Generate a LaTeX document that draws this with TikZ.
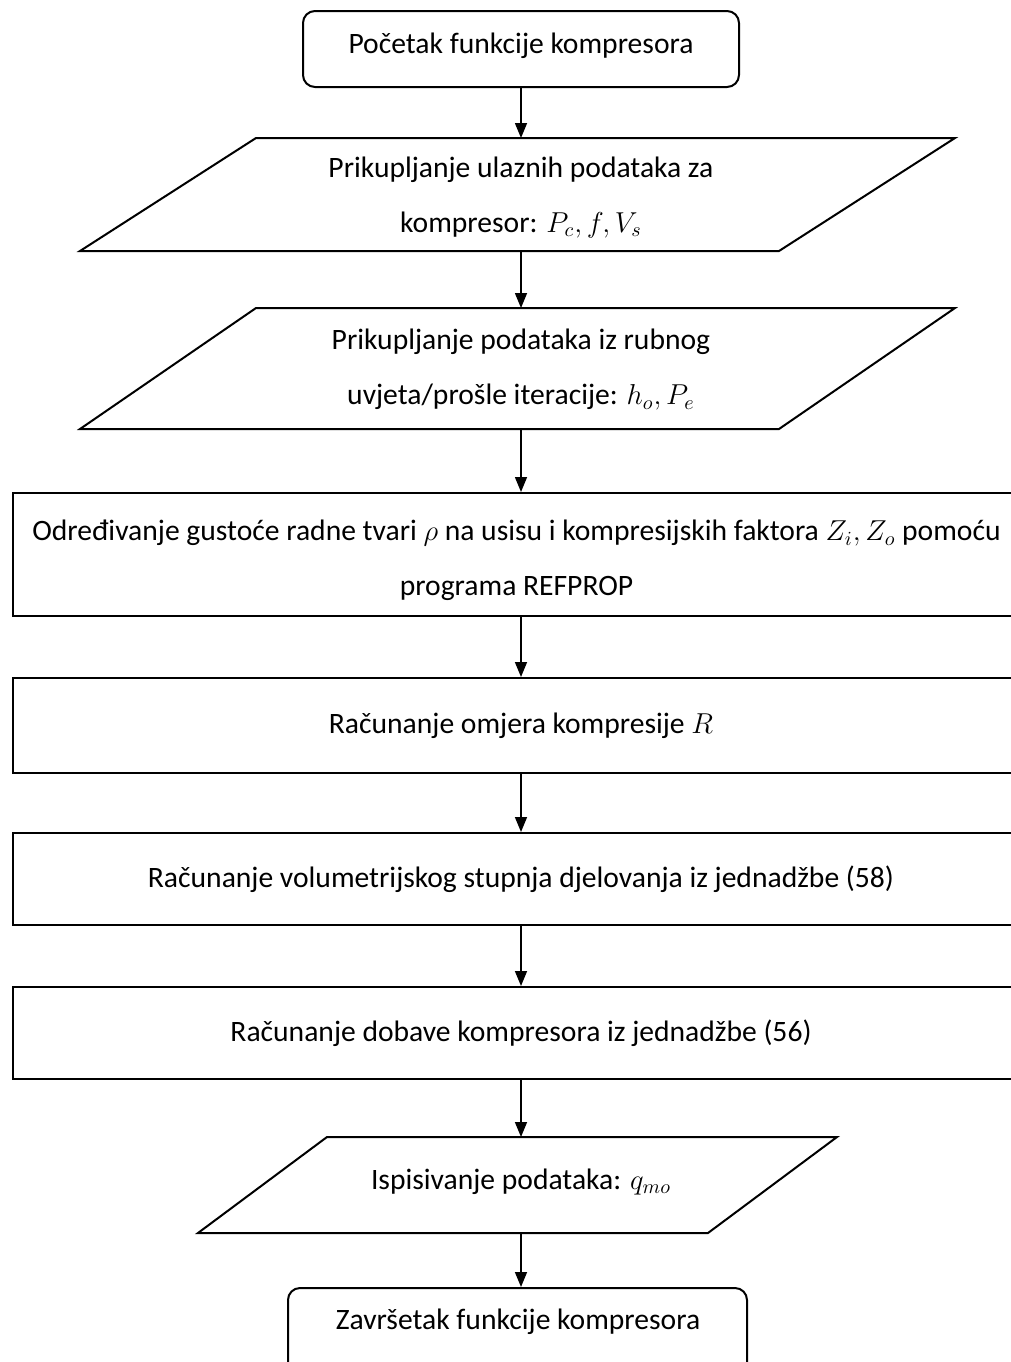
\documentclass[tikz,border=0pt]{standalone}
\usepackage{fontspec}
\setmainfont{Carlito}
\usetikzlibrary{arrows.meta}
\newcommand{\fs}{\fontsize{14.8}{27.5}\selectfont}
\begin{document}
\begin{tikzpicture}[x=0.5pt,y=-0.5pt,
  box/.style={draw, line width=1pt, inner sep=0pt, font=\fs, align=center},
  rbox/.style={box, rounded corners=6pt},
  para/.style={draw, line width=1pt, line join=miter},
  lbl/.style={font=\fs, align=center, inner sep=0pt},
  arr/.style={-{Triangle[length=7.5pt,width=6pt]}, line width=0.75pt}]
\useasboundingbox (0,0) rectangle (1011,1362);
\clip (0,0) rectangle (1011,1362);

% start
\node[rbox, minimum width=218pt, minimum height=38pt] (start) at (521,49) {};
\node[lbl] (startt) at (521,46) {Početak funkcije kompresora};

% input parallelogram 1
\draw[para] (256,138) -- (955,138) -- (779,251) -- (80,251) -- cycle;
\coordinate (p1top) at (521,138);
\coordinate (p1bot) at (521,251);
\node[lbl] (p1t) at (521,197.5) {Prikupljanje ulaznih podataka za\\kompresor: $P_c, f, V_s$};

% input parallelogram 2
\draw[para] (256,308) -- (955,308) -- (779,429) -- (80,429) -- cycle;
\coordinate (p2top) at (521,308);
\coordinate (p2bot) at (521,429);
\node[lbl] (p2t) at (521,370) {Prikupljanje podataka iz rubnog\\uvjeta/prošle iteracije: $h_o, P_e$};

% process rectangles
\node[box, minimum width=508.5pt, minimum height=61.5pt] (r1) at (521,554.5) {};
\node[lbl] (r1t) at (516.5,560.5) {Određivanje gustoće radne tvari $\rho$ na usisu i kompresijskih faktora $Z_i, Z_o$ pomoću\\programa REFPROP};

\node[box, minimum width=508.5pt, minimum height=47.5pt] (r2) at (521,725.5) {Računanje omjera kompresije $R$};
\node[box, minimum width=508.5pt, minimum height=46pt] (r3) at (521,879) {Računanje volumetrijskog stupnja djelovanja iz jednadžbe (58)};
\node[box, minimum width=508.5pt, minimum height=46pt] (r4) at (521,1033) {Računanje dobave kompresora iz jednadžbe (56)};

% output parallelogram
\draw[para] (327,1137) -- (837,1137) -- (708,1233) -- (198,1233) -- cycle;
\coordinate (p3top) at (521,1137);
\coordinate (p3bot) at (521,1233);
\node[lbl] (p3t) at (521,1182) {Ispisivanje podataka: $q_{mo}$};

% end (bottom edge lies below the picture's edge)
\node[rbox, minimum width=229.5pt, minimum height=46pt] (end) at (517.5,1334) {};
\node[lbl] (endt) at (518,1322) {Završetak funkcije kompresora};

% connectors
\draw[arr] (start.south) -- (p1top);
\draw[arr] (p1bot) -- (p2top);
\draw[arr] (p2bot) -- (r1.north);
\draw[arr] (r1.south) -- (r2.north);
\draw[arr] (r2.south) -- (r3.north);
\draw[arr] (r3.south) -- (r4.north);
\draw[arr] (r4.south) -- (p3top);
\draw[arr] (p3bot) -- (p3bot |- end.north);
\end{tikzpicture}
\end{document}
